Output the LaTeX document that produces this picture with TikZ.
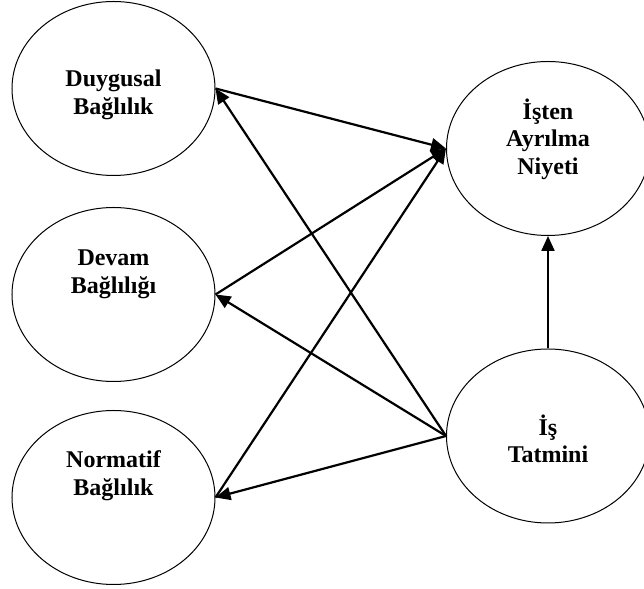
\documentclass[tikz,border=0pt]{standalone}
\usepackage{fontspec}
\setmainfont{Liberation Serif}
\usepackage{tikz}
\usetikzlibrary{
    arrows.meta,
    positioning,
    shapes.geometric
}
\tikzset{
    factor/.style={
        draw,
        ellipse,
        line width=0.5pt,
        inner sep=0pt,
        minimum width=101.5pt,
        minimum height=87pt
    },
    factortext/.style={
        align=center,
        inner sep=0pt,
        font=\bfseries\fontsize{12}{13.8}\selectfont
    },
    path/.style={
        -{Triangle[length=7.5pt,width=6.5pt]},
        line width=1.1pt
    }
}

\begin{document}
\begin{tikzpicture}[x=0.5pt,y=0.5pt]
%
    \useasboundingbox
    (0,0)
    rectangle
    (644,589);
%
    \node[factor] (duygusal) at (113.5,500.5) {};
    \node[factor] (devam) at (113.5,294.5) {};
    \node[factor] (normatif) at (113.5,91.5) {};
    \node[factor] (isten) at (548,440.5) {};
    \node[factor] (tatmin) at (548,153) {};
%
    \node[factortext] (duygusaltext) at (113.5,494) {Duygusal\\Bağlılık};
    \node[factortext] (devamtext) at (113.5,315) {Devam\\Bağlılığı};
    \node[factortext] (normatiftext) at (113.5,113) {Normatif\\Bağlılık};
    \node[factortext] (istentext) at (548,450) {İşten\\Ayrılma\\Niyeti};
    \node[factortext] (tatmintext) at (548,150) {İş\\Tatmini};
%
    \draw[path] (duygusal.east) -- (isten.west);
    \draw[path] (devam.east) -- (isten.west);
    \draw[path] (normatif.east) -- (isten.west);
%
    \draw[path] (tatmin.west) -- (duygusal.east);
    \draw[path] (tatmin.west) -- (devam.east);
    \draw[path] (tatmin.west) -- (normatif.east);
%
    \draw[path] (tatmin.north) -- (isten.south);
%
\end{tikzpicture}
\end{document}
